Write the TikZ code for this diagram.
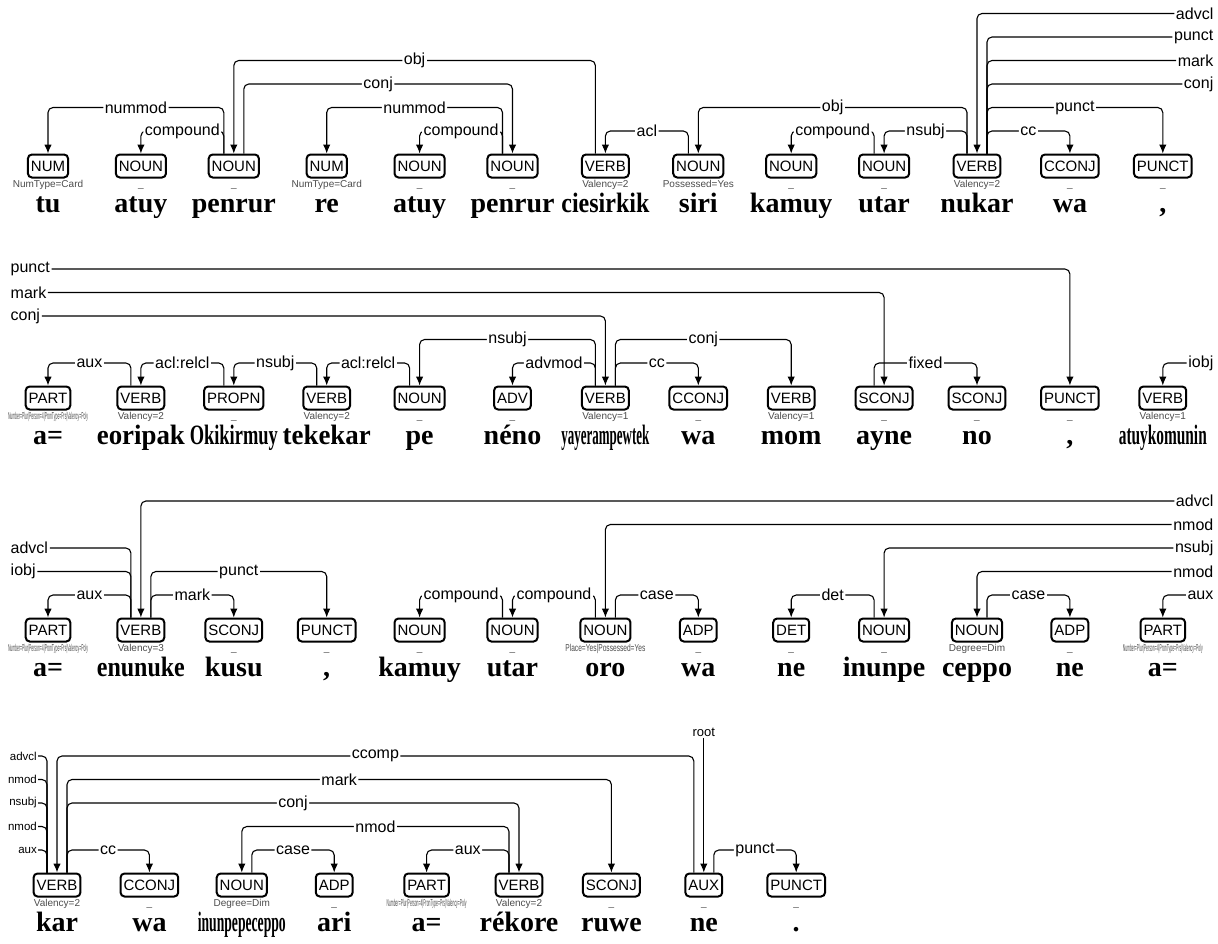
\documentclass[tikz,border=0pt]{standalone}
\usepackage{fontspec}
\usepackage{graphicx}
\setmainfont{Liberation Serif}
\newfontfamily\lsans{Liberation Sans}
\usetikzlibrary{arrows.meta,calc}
\newsavebox\fbx
\newcommand\fitto[2]{\sbox\fbx{#2}\ifdim\wd\fbx>#1\relax\resizebox{#1}{\height}{\usebox\fbx}\else\usebox\fbx\fi}
\tikzset{
  posbox/.style={draw, line width=2pt, rounded corners=4pt, font=\lsans\fontsize{15}{15}\selectfont,
    inner xsep=3pt, inner ysep=0pt, minimum height=23pt, text height=10.8pt, text depth=0pt},
  feat/.style={anchor=base, inner sep=0pt, font=\lsans\fontsize{10}{10}\selectfont, text=black!70},
  word/.style={anchor=base, inner sep=0pt, font=\bfseries\fontsize{28}{28}\selectfont},
  lbl/.style={fill=white, inner sep=1.5pt, font=\lsans\fontsize{16}{16}\selectfont},
  smlbl/.style={fill=white, inner sep=1pt, font=\lsans\fontsize{11.5}{11.5}\selectfont},
  arc/.style={line width=1.1pt, rounded corners=5pt},
  arr/.style={arc, -{Latex[length=9pt,width=7.5pt]}},
}
\newcommand\tok[6]{%
  \node[posbox] (#1) at (#2,#3+11.5) {#4};
  \node[feat] (#1f) at (#2,#3+33) {\fitto{80pt}{#5}};
  \node[word] (#1w) at (#2,#3+58) {\fitto{88pt}{#6}};}
\newcommand\dep[6]{%
  \coordinate (ds) at ([xshift=#2]#1.north);
  \coordinate (de) at ([xshift=#4]#3.north);
  \coordinate (dl) at (0,#5);
  \draw[arr] (ds) -- (ds |- dl) -- node[lbl]{#6} (de |- dl) -- (de);}
\newcommand\partfeat{Number=Plur|Person=4|PronType=Prs|Valency=Poly}
\begin{document}
\begin{tikzpicture}[x=1pt,y=-1pt]
\useasboundingbox (0,0) rectangle (1218,943);
% ---------------- row 1 ----------------
\tok{a1}{48}{154.5}{NUM}{NumType=Card}{tu}
\tok{a2}{140.9}{154.5}{NOUN}{\_}{atuy}
\tok{a3}{233.8}{154.5}{NOUN}{\_}{penrur}
\tok{a4}{326.7}{154.5}{NUM}{NumType=Card}{re}
\tok{a5}{419.6}{154.5}{NOUN}{\_}{atuy}
\tok{a6}{512.5}{154.5}{NOUN}{\_}{penrur}
\tok{a7}{605.4}{154.5}{VERB}{Valency=2}{ciesirkik}
\tok{a8}{698.3}{154.5}{NOUN}{Possessed=Yes}{siri}
\tok{a9}{791.2}{154.5}{NOUN}{\_}{kamuy}
\tok{a10}{884.1}{154.5}{NOUN}{\_}{utar}
\tok{a11}{977}{154.5}{VERB}{Valency=2}{nukar}
\tok{a12}{1069.9}{154.5}{CCONJ}{\_}{wa}
\tok{a13}{1162.8}{154.5}{PUNCT}{\_}{,}
\dep{a3}{-10}{a1}{0}{107.5}{nummod}
\dep{a3}{-10}{a2}{0}{131}{compound}
\dep{a7}{-10}{a3}{0}{60.5}{obj}
\dep{a3}{10}{a6}{0}{84}{conj}
\dep{a6}{-10}{a4}{0}{107.5}{nummod}
\dep{a6}{-10}{a5}{0}{131}{compound}
\dep{a8}{-10}{a7}{0}{131}{acl}
\dep{a11}{-10}{a8}{0}{107.5}{obj}
\dep{a10}{-10}{a9}{0}{131}{compound}
\dep{a11}{-10}{a10}{0}{131}{nsubj}
\dep{a11}{10}{a13}{0}{107.5}{punct}
\dep{a11}{10}{a12}{0}{131}{cc}
\node[lbl,anchor=east] (e1advcl) at (1215,13.5) {advcl};
\node[lbl,anchor=east] (e1punct) at (1215,37) {punct};
\node[lbl,anchor=east] (e1mark) at (1215,60.5) {mark};
\node[lbl,anchor=east] (e1conj) at (1215,84) {conj};
\draw[arr] (e1advcl.west) -| (a11.north);
\draw[arc] ([xshift=10]a11.north) |- (e1punct.west);
\draw[arc] ([xshift=10]a11.north) |- (e1mark.west);
\draw[arc] ([xshift=10]a11.north) |- (e1conj.west);
% ---------------- row 2 ----------------
\tok{b1}{48}{386.5}{PART}{\partfeat}{a=}
\tok{b2}{140.9}{386.5}{VERB}{Valency=2}{eoripak}
\tok{b3}{233.8}{386.5}{PROPN}{\_}{Okikirmuy}
\tok{b4}{326.7}{386.5}{VERB}{Valency=2}{tekekar}
\tok{b5}{419.6}{386.5}{NOUN}{\_}{pe}
\tok{b6}{512.5}{386.5}{ADV}{\_}{néno}
\tok{b7}{605.4}{386.5}{VERB}{Valency=1}{yayerampewtek}
\tok{b8}{698.3}{386.5}{CCONJ}{\_}{wa}
\tok{b9}{791.2}{386.5}{VERB}{Valency=1}{mom}
\tok{b10}{884.1}{386.5}{SCONJ}{\_}{ayne}
\tok{b11}{977}{386.5}{SCONJ}{\_}{no}
\tok{b12}{1069.9}{386.5}{PUNCT}{\_}{,}
\tok{b13}{1162.8}{386.5}{VERB}{Valency=1}{atuykomunin}
\node[lbl,anchor=west] (e2punct) at (9,269) {punct};
\node[lbl,anchor=west] (e2mark) at (9,292.5) {mark};
\node[lbl,anchor=west] (e2conj) at (9,316) {conj};
\draw[arr] (e2punct.east) -| (b12.north);
\draw[arr] (e2mark.east) -| (b10.north);
\draw[arr] (e2conj.east) -| (b7.north);
\dep{b7}{-10}{b5}{0}{339.5}{nsubj}
\dep{b2}{-10}{b1}{0}{363}{aux}
\dep{b3}{-10}{b2}{0}{363}{acl:relcl}
\dep{b4}{-10}{b3}{0}{363}{nsubj}
\dep{b5}{-10}{b4}{0}{363}{acl:relcl}
\dep{b7}{-10}{b6}{0}{363}{advmod}
\dep{b7}{10}{b9}{0}{339.5}{conj}
\dep{b7}{10}{b8}{0}{363}{cc}
\dep{b10}{-10}{b11}{0}{363}{fixed}
\node[lbl,anchor=east] (e2iobj) at (1215,363) {iobj};
\draw[arr] (e2iobj.west) -| (b13.north);
% ---------------- row 3 ----------------
\tok{c1}{48}{618.5}{PART}{\partfeat}{a=}
\tok{c2}{140.9}{618.5}{VERB}{Valency=3}{enunuke}
\tok{c3}{233.8}{618.5}{SCONJ}{\_}{kusu}
\tok{c4}{326.7}{618.5}{PUNCT}{\_}{,}
\tok{c5}{419.6}{618.5}{NOUN}{\_}{kamuy}
\tok{c6}{512.5}{618.5}{NOUN}{\_}{utar}
\tok{c7}{605.4}{618.5}{NOUN}{Place=Yes|Possessed=Yes}{oro}
\tok{c8}{698.3}{618.5}{ADP}{\_}{wa}
\tok{c9}{791.2}{618.5}{DET}{\_}{ne}
\tok{c10}{884.1}{618.5}{NOUN}{\_}{inunpe}
\tok{c11}{977}{618.5}{NOUN}{Degree=Dim}{ceppo}
\tok{c12}{1069.9}{618.5}{ADP}{\_}{ne}
\tok{c13}{1162.8}{618.5}{PART}{\partfeat}{a=}
\node[lbl,anchor=east] (e3advcl) at (1215,501) {advcl};
\node[lbl,anchor=east] (e3nmod) at (1215,524.5) {nmod};
\node[lbl,anchor=east] (e3nsubj) at (1215,548) {nsubj};
\node[lbl,anchor=east] (e3nmodb) at (1215,571.5) {nmod};
\node[lbl,anchor=east] (e3aux) at (1215,595) {aux};
\draw[arr] (e3advcl.west) -| (c2.north);
\draw[arr] (e3nmod.west) -| (c7.north);
\draw[arr] (e3nsubj.west) -| (c10.north);
\draw[arr] (e3nmodb.west) -| (c11.north);
\draw[arr] (e3aux.west) -| (c13.north);
\node[lbl,anchor=west] (e3Ladvcl) at (9,548) {advcl};
\node[lbl,anchor=west] (e3Liobj) at (9,571.5) {iobj};
\draw[arc] ([xshift=-10]c2.north) |- (e3Ladvcl.east);
\draw[arc] ([xshift=-10]c2.north) |- (e3Liobj.east);
\dep{c2}{-10}{c1}{0}{595}{aux}
\dep{c2}{10}{c4}{0}{571.5}{punct}
\dep{c2}{10}{c3}{0}{595}{mark}
\dep{c6}{-10}{c5}{0}{595}{compound}
\dep{c7}{-10}{c6}{0}{595}{compound}
\dep{c7}{10}{c8}{0}{595}{case}
\dep{c10}{-10}{c9}{0}{595}{det}
\dep{c11}{10}{c12}{0}{595}{case}
% ---------------- row 4 ----------------
\tok{d1}{57}{873.5}{VERB}{Valency=2}{kar}
\tok{d2}{149.4}{873.5}{CCONJ}{\_}{wa}
\tok{d3}{241.8}{873.5}{NOUN}{Degree=Dim}{inunpepeceppo}
\tok{d4}{334.2}{873.5}{ADP}{\_}{ari}
\tok{d5}{426.6}{873.5}{PART}{\partfeat}{a=}
\tok{d6}{519}{873.5}{VERB}{Valency=2}{rékore}
\tok{d7}{611.4}{873.5}{SCONJ}{\_}{ruwe}
\tok{d8}{703.8}{873.5}{AUX}{\_}{ne}
\tok{d9}{796.2}{873.5}{PUNCT}{\_}{.}
\node[smlbl,anchor=east] (e4advcl) at (38,756) {advcl};
\node[smlbl,anchor=east] (e4nmod) at (38,779.5) {nmod};
\node[smlbl,anchor=east] (e4nsubj) at (38,803) {nsubj};
\node[smlbl,anchor=east] (e4nmodb) at (38,826.5) {nmod};
\node[smlbl,anchor=east] (e4aux) at (38,850) {aux};
\foreach \l in {e4advcl,e4nmod,e4nsubj,e4nmodb,e4aux}
  \draw[arc] ([xshift=-10]d1.north) |- (\l.east);
\dep{d8}{-10}{d1}{0}{756}{ccomp}
\dep{d1}{10}{d7}{0}{779.5}{mark}
\dep{d1}{10}{d6}{0}{803}{conj}
\dep{d6}{-10}{d3}{0}{826.5}{nmod}
\dep{d1}{10}{d2}{0}{850}{cc}
\dep{d3}{10}{d4}{0}{850}{case}
\dep{d6}{-10}{d5}{0}{850}{aux}
\dep{d8}{10}{d9}{0}{850}{punct}
\node[smlbl,font=\lsans\fontsize{13}{13}\selectfont] (root) at (703.8,732.5) {root};
\draw[arr] (root.south) -- (d8.north);
\end{tikzpicture}
\end{document}
